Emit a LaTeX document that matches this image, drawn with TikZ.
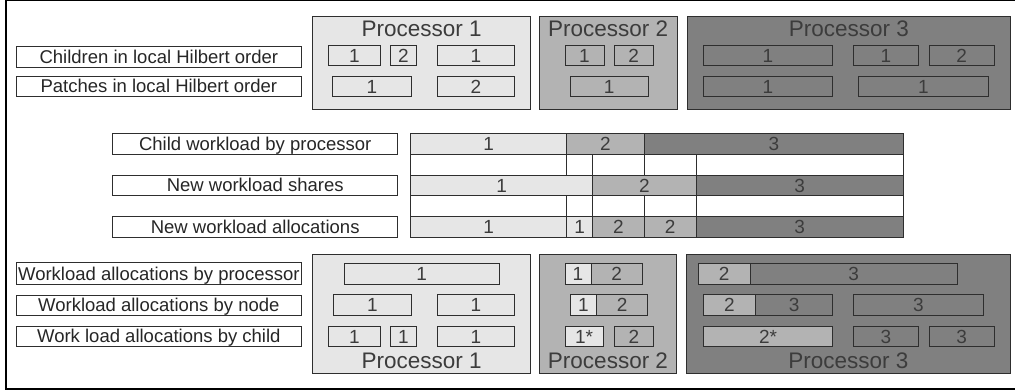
\documentclass[tikz,border=0pt]{standalone}
\usepackage{fontspec}
\setmainfont{Liberation Sans}
\definecolor{pA}{HTML}{E6E6E6}
\definecolor{pB}{HTML}{B3B3B3}
\definecolor{pC}{HTML}{808080}
\definecolor{ln}{HTML}{2E2E2E}
\definecolor{tx}{HTML}{3C3C3C}
\tikzset{
  cell/.style={draw=ln, line width=0.9pt, inner sep=0pt, outer sep=0pt, text=tx,
    font=\fontsize{19}{19}\selectfont, text height=13.6pt, text depth=0pt},
  lab/.style={cell, fill=white, text=black!85, font=\fontsize{18.5}{18.5}\selectfont, text height=13.2pt},
  proc/.style={draw=ln, line width=0.9pt, inner sep=0pt, outer sep=0pt},
  ttl/.style={text=tx, font=\fontsize{22.5}{22.5}\selectfont, anchor=base, inner sep=0pt},
  gapline/.style={draw=ln, line width=0.8pt},
  frame/.style={draw=black, line width=1.4pt},
}
% name, x1, y1, x2, y2, style, text
\newcommand\cel[7]{%
  \node[#6, minimum width={(#4-#2)*1pt}, minimum height={(#5-#3)*1pt}] (#1) at ({(#2+#4)/2},{(#3+#5)/2}) {#7};}
\begin{document}
\begin{tikzpicture}[x=1pt,y=-1pt]
\useasboundingbox (0,0) rectangle (1015,390);
% outer frame
\coordinate (fa) at (1015,0.7);
\coordinate (fb) at (6,0.7);
\coordinate (fc) at (6,389);
\coordinate (fd) at (1015,389);
\draw[frame] (fa) -- (fb) -- (fc) -- (fd);

% ---------- top section ----------
\cel{lchild}{16}{46.7}{301.7}{67.7}{lab}{Children in local Hilbert order}
\cel{lpatch}{16}{76}{301.7}{96.7}{lab}{Patches in local Hilbert order}

\cel{pAt}{312.5}{16}{530.7}{109.3}{proc,fill=pA}{}
\cel{pBt}{539.3}{16}{677}{109.3}{proc,fill=pB}{}
\cel{pCt}{687}{16.5}{1010.7}{109.3}{proc,fill=pC}{}
\node[ttl] (tAt) at (421.6,37) {Processor 1};
\node[ttl] (tBt) at (608.2,37) {Processor 2};
\node[ttl] (tCt) at (848.9,37) {Processor 3};

\cel{a11}{328.3}{45.3}{380.7}{65.7}{cell,fill=pA}{1}
\cel{a12}{390.7}{45.3}{416}{65.7}{cell,fill=pA}{2}
\cel{a13}{437.3}{45.3}{514.3}{65.7}{cell,fill=pA}{1}
\cel{a21}{332.7}{76.7}{411.3}{96.7}{cell,fill=pA}{1}
\cel{a22}{437.3}{76.7}{514.3}{96.7}{cell,fill=pA}{2}

\cel{b11}{565}{45.3}{604}{65.7}{cell,fill=pB}{1}
\cel{b12}{614}{45.3}{653.3}{65.7}{cell,fill=pB}{2}
\cel{b21}{570}{76.7}{648.3}{96.7}{cell,fill=pB}{1}

\cel{c11}{703.3}{45.3}{832.7}{65.7}{cell,fill=pC}{1}
\cel{c12}{853.3}{45.3}{918.7}{65.7}{cell,fill=pC}{1}
\cel{c13}{929.3}{45.3}{994}{65.7}{cell,fill=pC}{2}
\cel{c21}{703.3}{76.7}{832.7}{96.7}{cell,fill=pC}{1}
\cel{c22}{858.3}{76.7}{988.3}{96.7}{cell,fill=pC}{1}

% ---------- middle section ----------
\cel{lcw}{112.7}{133.3}{397.7}{154.3}{lab}{Child workload by processor}
\cel{lns}{112.7}{175}{397.7}{195.7}{lab}{New workload shares}
\cel{lna}{112.7}{216.7}{397.7}{237.3}{lab}{New workload allocations}

\cel{m11}{410.7}{133.3}{566.7}{154.3}{cell,fill=pA}{1}
\cel{m12}{566.7}{133.3}{644.3}{154.3}{cell,fill=pB}{2}
\cel{m13}{644.3}{133.3}{903.3}{154.3}{cell,fill=pC}{3}

\cel{m21}{410.7}{175}{592.7}{195.7}{cell,fill=pA}{1}
\cel{m22}{592.7}{175}{696}{195.7}{cell,fill=pB}{2}
\cel{m23}{696}{175}{903.3}{195.7}{cell,fill=pC}{3}

\cel{m31}{410.7}{216.7}{566.7}{237.3}{cell,fill=pA}{1}
\cel{m32}{566.7}{216.7}{592.7}{237.3}{cell,fill=pA}{1}
\cel{m33}{592.7}{216.7}{644.3}{237.3}{cell,fill=pB}{2}
\cel{m34}{644.3}{216.7}{696}{237.3}{cell,fill=pB}{2}
\cel{m35}{696}{216.7}{903.3}{237.3}{cell,fill=pC}{3}

\foreach \xx in {410.7,566.7,592.7,644.3,696,903.3}{
  \draw[gapline] (\xx,154.3) -- (\xx,175);
  \draw[gapline] (\xx,195.7) -- (\xx,216.7);
}

% ---------- bottom section ----------
\cel{lwp}{16}{262.7}{301.7}{284.3}{lab}{Workload allocations by processor}
\cel{lwn}{16}{295}{301.7}{315.3}{lab}{Workload allocations by node}
\cel{lwc}{16}{326}{301.7}{346.7}{lab}{Work load allocations by child}

\cel{pAb}{312.5}{254}{530.7}{373.3}{proc,fill=pA}{}
\cel{pBb}{539.3}{254}{676.7}{373.3}{proc,fill=pB}{}
\cel{pCb}{686}{254}{1010.5}{373.3}{proc,fill=pC}{}
\node[ttl] (tAb) at (421.6,368.5) {Processor 1};
\node[ttl] (tBb) at (608,368.5) {Processor 2};
\node[ttl] (tCb) at (848.3,368.5) {Processor 3};

\cel{d11}{344}{263.3}{499.3}{284}{cell,fill=pA}{1}
\cel{d21}{333.3}{294.3}{411.3}{315.3}{cell,fill=pA}{1}
\cel{d22}{437.3}{294.3}{514.3}{315.3}{cell,fill=pA}{1}
\cel{d31}{328.3}{326}{380.7}{346.7}{cell,fill=pA}{1}
\cel{d32}{390.7}{326}{416}{346.7}{cell,fill=pA}{1}
\cel{d33}{437.3}{326}{514.3}{346.7}{cell,fill=pA}{1}

\cel{e11}{565}{263.3}{591}{284}{cell,fill=pA}{1}
\cel{e12}{591}{263.3}{642.3}{284}{cell,fill=pB}{2}
\cel{e21}{570}{294.3}{596.7}{315.3}{cell,fill=pA}{1}
\cel{e22}{596.7}{294.3}{647.7}{315.3}{cell,fill=pB}{2}
\cel{e31}{565}{326}{603.3}{346.7}{cell,fill=pA}{1*}
\cel{e32}{614.3}{326}{653.3}{346.7}{cell,fill=pB}{2}

\cel{f11}{698.3}{263.3}{750}{284}{cell,fill=pB}{2}
\cel{f12}{750}{263.3}{957.3}{284}{cell,fill=pC}{3}
\cel{f21}{703.3}{294.3}{755.7}{315.3}{cell,fill=pB}{2}
\cel{f22}{755.7}{294.3}{832.7}{315.3}{cell,fill=pC}{3}
\cel{f23}{853.3}{294.3}{983.3}{315.3}{cell,fill=pC}{3}
\cel{f31}{703.3}{326}{832.7}{346.7}{cell,fill=pB}{2*}
\cel{f32}{853.3}{326}{918.3}{346.7}{cell,fill=pC}{3}
\cel{f33}{929.3}{326}{994}{346.7}{cell,fill=pC}{3}
\end{tikzpicture}
\end{document}
